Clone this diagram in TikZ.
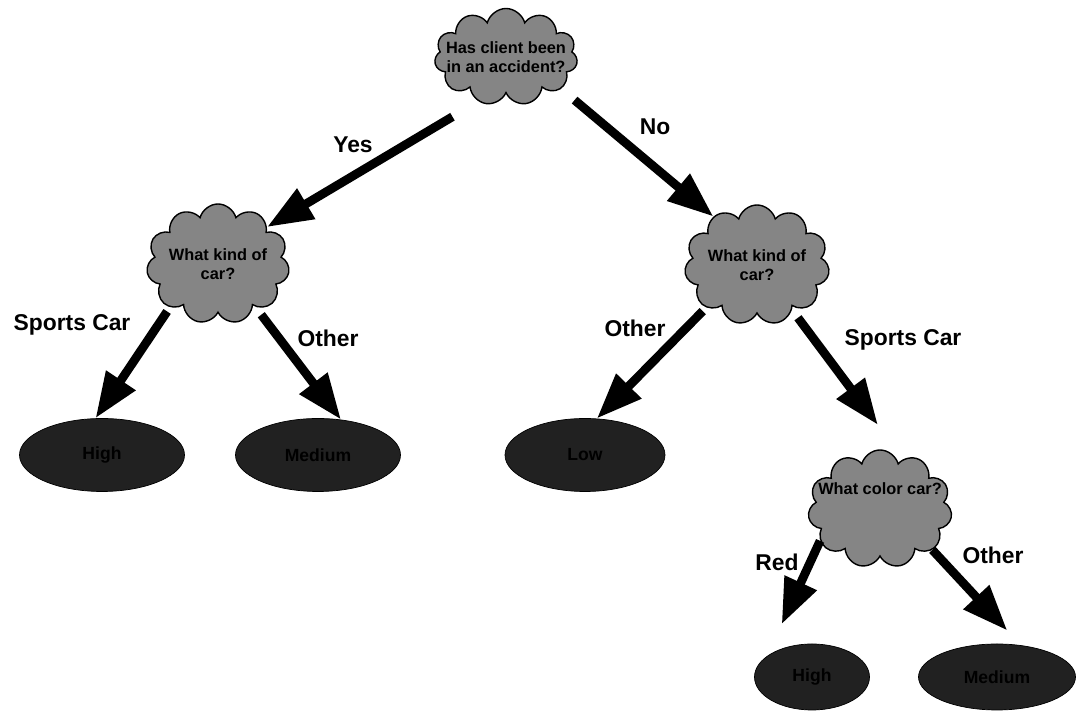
\documentclass[tikz,border=0pt]{standalone}
\usepackage{fontspec}
\setmainfont{Liberation Sans}
\usetikzlibrary{shapes.symbols,shapes.geometric,arrows.meta}
\tikzset{%
  >={Triangle[length=26pt,width=19pt]},
  question/.style={cloud,cloud puffs=11,aspect=1.3,draw=black,thick,
    fill=black!48,inner xsep=-8pt,inner ysep=-6pt,align=center,
    font=\fontsize{9.3}{10.5}\selectfont\bfseries},%
  leaf/.style={ellipse,draw=black,fill=black!87,inner sep=0pt,
    minimum width=3.3cm,minimum height=1.46cm,
    font=\fontsize{10}{12}\selectfont\bfseries},%
  branch/.style={->,line width=5pt},%
  choice/.style={font=\fontsize{13}{15}\selectfont\bfseries}%
}

\begin{document}
\begin{tikzpicture}
\useasboundingbox (0,0) rectangle (21.52,14.38);

% questions
\node[question,cloud ignores aspect,inner xsep=-12pt,minimum width=2.86cm,minimum height=1.94cm] (accident) at (10.12,13.24) {Has client been\\in an accident?};
\node[question,minimum width=2.86cm,minimum height=2.4cm] (kindYes) at (4.36,9.10) {What kind of\\car?};
\node[question,minimum width=2.9cm,minimum height=2.4cm] (kindNo) at (15.14,9.08) {What kind of\\car?};
\node[question,inner xsep=-18pt,minimum width=2.88cm,minimum height=2.36cm] (colour) at (17.6,4.2) {What color car?\\[2.5ex]};

% outcomes
\node[leaf] (highYes) at (2.04,5.28) {High};
\node[leaf] (mediumYes) at (6.36,5.28) {Medium};
\node[leaf,minimum width=3.2cm] (lowNo) at (11.70,5.28) {Low};
\node[leaf,minimum width=2.3cm,minimum height=1.32cm] (highRed) at (16.24,0.84) {High};
\node[leaf,minimum width=3.14cm,minimum height=1.32cm] (mediumOther) at (19.94,0.84) {Medium};

% branches
\draw[branch,shorten <=0.6cm] (accident.238) -- (kindYes.37);
\draw[branch,shorten <=0.35cm] (accident.330) -- (kindNo.132);
\draw[branch,shorten <=0.1cm] (kindYes.222) -- (highYes.100);
\draw[branch,shorten <=0.2cm] (kindYes.311) -- (mediumYes.57);
\draw[branch,shorten <=0.1cm] (kindNo.220) -- (lowNo.72);
\draw[branch,shorten <=0.2cm,shorten >=0.85cm] (kindNo.308) -- (colour.65);
\draw[branch,shorten >=0.7cm] (colour.208) -- (highRed.155);
\draw[branch,shorten >=0.4cm] (colour.322) -- (mediumOther.53);

% branch labels
\node[choice] (yes) at (7.06,11.48) {Yes};
\node[choice] (no) at (13.10,11.84) {No};
\node[choice] (sportsYes) at (1.44,7.88) {Sports Car};
\node[choice] (otherYes) at (6.56,7.62) {Other};
\node[choice] (otherNo) at (12.70,7.82) {Other};
\node[choice] (sportsNo) at (18.06,7.58) {Sports Car};
\node[choice] (red) at (15.54,3.14) {Red};
\node[choice] (otherColour) at (19.86,3.28) {Other};
\end{tikzpicture}
\end{document}
